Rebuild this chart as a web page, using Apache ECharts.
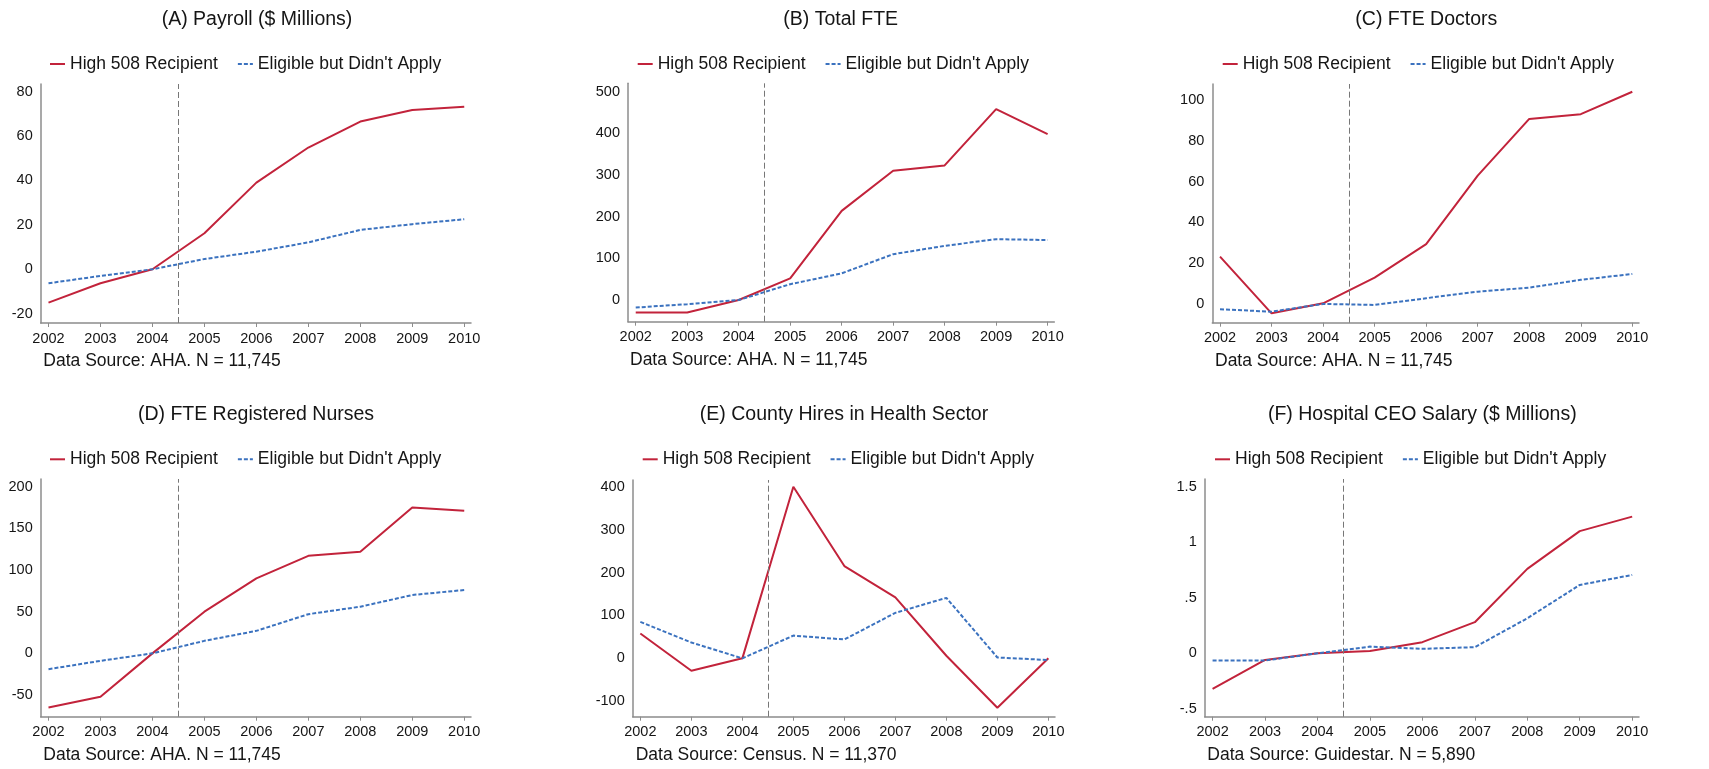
<!DOCTYPE html>
<html>
<head>
<meta charset="utf-8">
<title>508 Program Outcomes</title>
<script src="https://cdn.jsdelivr.net/npm/echarts@6/dist/echarts.min.js"></script>
<style>
    html, body { margin: 0; padding: 0; background: #fff; }
    #main { width: 1709px; height: 769px; }
</style>
</head>
<body>
<div id="main"></div>
<script>
// data
const years = [2002, 2003, 2004, 2005, 2006, 2007, 2008, 2009, 2010];
const seriesNames = ['High 508 Recipient', "Eligible but Didn't Apply"];
const treatmentYear = 2004.5;

const payrollHigh = [-15, -6.3, 0, 16.2, 39, 54.8, 66.5, 71.7, 73.2];
const payrollElig = [-6.3, -3, 0, 4.6, 7.9, 12.1, 17.7, 20.3, 22.5];
const payrollTicks = [-20, 0, 20, 40, 60, 80];

const fteHigh = [-30, -30, 0, 52, 214, 310, 323, 458, 398];
const fteElig = [-18, -10, 0, 38, 64, 110, 130, 146, 144];
const fteTicks = [0, 100, 200, 300, 400, 500];

const doctorsHigh = [23.2, -4.6, 0.3, 12.9, 29.3, 62.9, 90.7, 93, 104];
const doctorsElig = [-2.6, -3.8, 0, -0.5, 2.8, 6, 8, 11.8, 14.7];
const doctorsTicks = [0, 20, 40, 60, 80, 100];

const nursesHigh = [-65, -52, 0, 50, 90, 117, 122, 175, 171];
const nursesElig = [-19, -9, 0, 15, 27, 47, 56, 70, 76];
const nursesTicks = [-50, 0, 50, 100, 150, 200];

const hiresHigh = [58, -29, 0, 400, 215, 142, 6, -115, 0];
const hiresElig = [85, 37, 0, 53, 44, 106, 141, 2, -4];
const hiresTicks = [-100, 0, 100, 200, 300, 400];

const ceoHigh = [-0.32, -0.06, 0, 0.02, 0.1, 0.28, 0.76, 1.1, 1.23];
const ceoElig = [-0.065, -0.065, 0, 0.06, 0.04, 0.055, 0.315, 0.615, 0.705];
const ceoTicks = [-0.5, 0, 0.5, 1, 1.5];

const panelTitles = [
    '(A) Payroll ($ Millions)', '(B) Total FTE', '(C) FTE Doctors',
    '(D) FTE Registered Nurses', '(E) County Hires in Health Sector', '(F) Hospital CEO Salary ($ Millions)'
];
const panelSources = [
    'Data Source: AHA. N = 11,745', 'Data Source: AHA. N = 11,745', 'Data Source: AHA. N = 11,745',
    'Data Source: AHA. N = 11,745', 'Data Source: Census. N = 11,370', 'Data Source: Guidestar. N = 5,890'
];

const panelData = [
    { high: payrollHigh, elig: payrollElig, ticks: payrollTicks, yMin: -24.2, yMax: 83.4 },
    { high: fteHigh, elig: fteElig, ticks: fteTicks, yMin: -52, yMax: 520 },
    { high: doctorsHigh, elig: doctorsElig, ticks: doctorsTicks, yMin: -9.2, yMax: 107.8 },
    { high: nursesHigh, elig: nursesElig, ticks: nursesTicks, yMin: -76, yMax: 209.2 },
    { high: hiresHigh, elig: hiresElig, ticks: hiresTicks, yMin: -136, yMax: 415.6 },
    { high: ceoHigh, elig: ceoElig, ticks: ceoTicks, yMin: -0.571, yMax: 1.569 }
];

// layout of each small panel (pixels)
const layouts = [
    { left: 40.7, width: 430.3, top: 84, height: 239, titleX: 257, titleY: 18.3, legendX: 49, legendY: 63, sourceX: 43.3, sourceY: 362 },
    { left: 628, width: 426.3, top: 83.3, height: 238.4, titleX: 840.7, titleY: 18.3, legendX: 636.7, legendY: 63, sourceX: 630, sourceY: 361.5 },
    { left: 1212.3, width: 426.7, top: 84, height: 238.7, titleX: 1426.3, titleY: 18.3, legendX: 1221.7, legendY: 63, sourceX: 1215, sourceY: 362 },
    { left: 40.7, width: 430.3, top: 479, height: 237.7, titleX: 256, titleY: 413.3, legendX: 49, legendY: 458.3, sourceX: 43.3, sourceY: 756 },
    { left: 632.7, width: 422.3, top: 480, height: 236.7, titleX: 844, titleY: 413.3, legendX: 641.7, legendY: 458.3, sourceX: 635.7, sourceY: 756 },
    { left: 1204.7, width: 434.3, top: 479, height: 237.7, titleX: 1422.3, titleY: 413.3, legendX: 1214, legendY: 458.3, sourceX: 1207.3, sourceY: 756 }
];

const FONT = '"Liberation Sans", Arial, sans-serif';
const RED = '#c2233b';
const BLUE = '#3b72bf';
const AXIS_GRAY = '#8c8c8c';
const TEXT = '#151515';

// Stata style: .5 instead of 0.5
function stataNum(v) {
    let s = String(Math.round(v * 1000) / 1000);
    return s.replace(/^0\./, '.').replace(/^-0\./, '-.');
}

const chart = echarts.init(document.getElementById('main'));

const titles = [], legends = [], grids = [], xAxes = [], yAxes = [], series = [], graphics = [];

panelData.forEach((p, i) => {
    const L = layouts[i];
    titles.push({
        text: panelTitles[i],
        left: L.titleX,
        top: L.titleY - 9,
        textAlign: 'center',
        padding: 0,
        textStyle: { fontFamily: FONT, fontSize: 19.5, fontWeight: 'normal', color: TEXT }
    });
    legends.push({
        data: seriesNames,
        left: L.legendX,
        top: L.legendY - 8,
        padding: 0,
        itemGap: 19,
        itemWidth: 15,
        itemHeight: 10,
        itemStyle: { opacity: 0 },
        selectedMode: false,
        textStyle: { fontFamily: FONT, fontSize: 17.5, color: TEXT }
    });
    grids.push({ left: L.left, top: L.top, width: L.width, height: L.height });
    xAxes.push({
        type: 'value',
        gridIndex: i,
        min: 2001.85,
        max: 2010.13,
        axisLine: { onZero: false, lineStyle: { color: AXIS_GRAY, width: 1.5 } },
        axisTick: { customValues: years, length: 4, lineStyle: { color: AXIS_GRAY } },
        axisLabel: {
            customValues: years, margin: 8,
            fontFamily: FONT, fontSize: 14.5, color: TEXT,
            formatter: v => String(v)
        },
        splitLine: { show: false }
    });
    yAxes.push({
        type: 'value',
        gridIndex: i,
        min: p.yMin,
        max: p.yMax,
        axisLine: { show: true, onZero: false, lineStyle: { color: AXIS_GRAY, width: 1.5 } },
        axisTick: { show: false },
        axisLabel: {
            customValues: p.ticks, margin: 8,
            fontFamily: FONT, fontSize: 14.5, color: TEXT,
            formatter: stataNum
        },
        splitLine: { show: false }
    });
    series.push({
        name: seriesNames[0],
        type: 'line',
        xAxisIndex: i,
        yAxisIndex: i,
        data: years.map((y, k) => [y, p.high[k]]),
        symbol: 'none',
        z: 3,
        lineStyle: { color: RED, width: 2 },
        itemStyle: { color: RED },
        markLine: {
            silent: true,
            symbol: 'none',
            label: { show: false },
            lineStyle: { color: '#777', type: [6, 3], width: 1 },
            data: [{ xAxis: treatmentYear }]
        }
    });
    series.push({
        name: seriesNames[1],
        type: 'line',
        xAxisIndex: i,
        yAxisIndex: i,
        data: years.map((y, k) => [y, p.elig[k]]),
        symbol: 'none',
        z: 4,
        lineStyle: { color: BLUE, width: 2, type: [4, 2] },
        itemStyle: { color: BLUE }
    });
    graphics.push({
        type: 'text',
        left: L.sourceX,
        top: L.sourceY - 10,
        style: { text: panelSources[i], font: '17.5px ' + FONT, fill: TEXT }
    });
});

chart.setOption({
    animation: false,
    title: titles,
    legend: legends,
    grid: grids,
    xAxis: xAxes,
    yAxis: yAxes,
    series: series,
    graphic: graphics
});
</script>
</body>
</html>
